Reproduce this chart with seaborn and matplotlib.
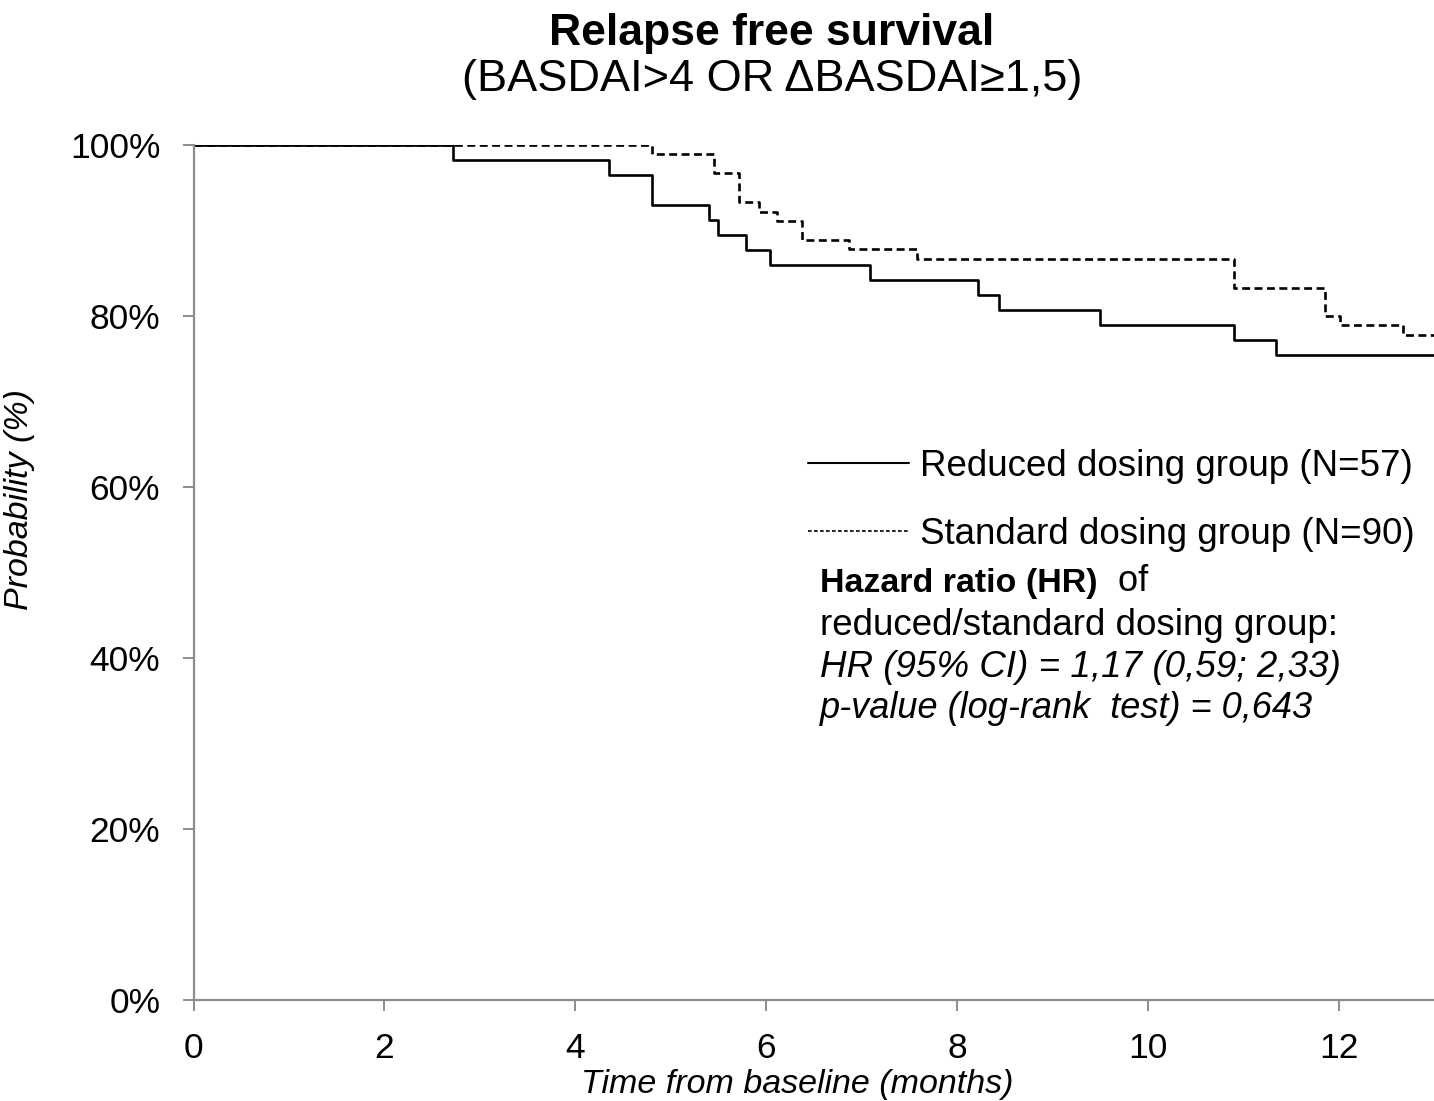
import matplotlib
matplotlib.use("Agg")
import matplotlib.pyplot as plt
import seaborn as sns
import pandas as pd
from matplotlib.lines import Line2D

# ---- data ----
reduced_times = [0, 2.72, 4.35, 4.80, 5.40, 5.50, 5.79, 6.04, 7.09, 8.22, 8.44, 9.50, 10.90, 11.34, 13.0]
reduced_surv = [100, 98.2, 96.5, 93.0, 91.2, 89.5, 87.7, 86.0, 84.2, 82.5, 80.7, 78.9, 77.2, 75.4, 75.4]
standard_times = [0, 4.81, 5.45, 5.72, 5.93, 6.12, 6.38, 6.87, 7.58, 10.90, 11.86, 12.01, 12.68, 13.0]
standard_surv = [100, 98.9, 96.7, 93.3, 92.2, 91.1, 88.9, 87.8, 86.7, 83.3, 80.0, 78.9, 77.8, 77.8]
group_labels = ["Reduced dosing group (N=57)", "Standard dosing group (N=90)"]
x_ticks = [0, 2, 4, 6, 8, 10, 12]
y_ticks = [0, 20, 40, 60, 80, 100]
y_tick_labels = ["0%", "20%", "40%", "60%", "80%", "100%"]

df = pd.concat([
    pd.DataFrame({"time": reduced_times, "surv": reduced_surv, "group": group_labels[0]}),
    pd.DataFrame({"time": standard_times, "surv": standard_surv, "group": group_labels[1]}),
], ignore_index=True)

sns.set_style("white")
plt.rcParams["font.family"] = ["Liberation Sans", "DejaVu Sans"]
plt.rcParams["text.color"] = "black"
plt.rcParams["axes.labelcolor"] = "black"
plt.rcParams["xtick.color"] = "black"
plt.rcParams["ytick.color"] = "black"

fig = plt.figure(figsize=(14.34, 11.01), dpi=100)
ax = fig.add_axes([193.5 / 1434, 1 - 1000 / 1101, (1434 - 193.5) / 1434, (1000 - 145) / 1101])

lw = 1.9
styles = {group_labels[0]: "", group_labels[1]: (3.0, 1.7)}
sns.lineplot(data=df, x="time", y="surv", hue="group", style="group",
             palette={g: "black" for g in group_labels}, dashes=styles,
             drawstyle="steps-post", estimator=None, linewidth=lw,
             legend=False, ax=ax)

ax.set_xlim(0, 13)
ax.set_ylim(0, 100)
ax.set_xticks(x_ticks)
ax.set_xticklabels([str(t) for t in x_ticks])
ax.set_yticks(y_ticks)
ax.set_yticklabels(y_tick_labels)

gray = "#8c8c8c"
for s in ["top", "right"]:
    ax.spines[s].set_visible(False)
for s in ["left", "bottom"]:
    ax.spines[s].set_color(gray)
    ax.spines[s].set_linewidth(1.6)
ax.tick_params(axis="x", direction="out", length=8, width=1.4, color=gray,
               labelcolor="black", labelsize=25.5, pad=15, bottom=True)
ax.tick_params(axis="y", direction="out", length=8, width=1.4, color=gray,
               labelcolor="black", labelsize=25.5, pad=16, left=True)

ax.set_xlabel("Time from baseline (months)", fontsize=24.5, style="italic")
ax.xaxis.set_label_coords(0.487, -0.081)
ax.set_ylabel("Probability (%)", fontsize=24.5, style="italic")
ax.yaxis.set_label_coords(-0.128, 0.585)

# legend
handles = [Line2D([], [], color="black", lw=1.5, linestyle="-"),
           Line2D([], [], color="black", lw=1.2, linestyle=(0, (2.2, 1.4)))]
ax.legend(handles, group_labels, loc="upper left", bbox_to_anchor=(0.495, 0.645),
          frameon=False, fontsize=26.5, handlelength=2.75, handletextpad=0.3,
          labelspacing=0.9, borderaxespad=0, borderpad=0)

# hazard ratio text block
tx = (820 - 193.5) / 1240
t1 = ax.text(tx, (1000 - 584) / 855, "Hazard ratio (HR)", transform=ax.transAxes,
             fontsize=24.5, fontweight="bold", va="center", ha="left")
ax.annotate("  of", xy=(1, 0), xycoords=t1, fontsize=26, va="bottom", ha="left")
ax.text(tx, (1000 - 626) / 855, "reduced/standard dosing group:", transform=ax.transAxes,
        fontsize=26.5, va="center", ha="left")
ax.text(tx, (1000 - 668) / 855, "HR (95% CI) = 1,17 (0,59; 2,33)", transform=ax.transAxes,
        fontsize=26.5, style="italic", va="center", ha="left")
ax.text(tx, (1000 - 709) / 855, "p-value (log-rank  test) = 0,643", transform=ax.transAxes,
        fontsize=26, style="italic", va="center", ha="left")

# title
fig.text(772 / 1434, 1 - 33 / 1101, "Relapse free survival", fontsize=32,
         fontweight="bold", ha="center", va="center")
fig.text(772 / 1434, 1 - 80 / 1101, "(BASDAI>4 OR \u0394BASDAI\u22651,5)", fontsize=32.5,
         ha="center", va="center")

fig.savefig("out.png", dpi=100)
